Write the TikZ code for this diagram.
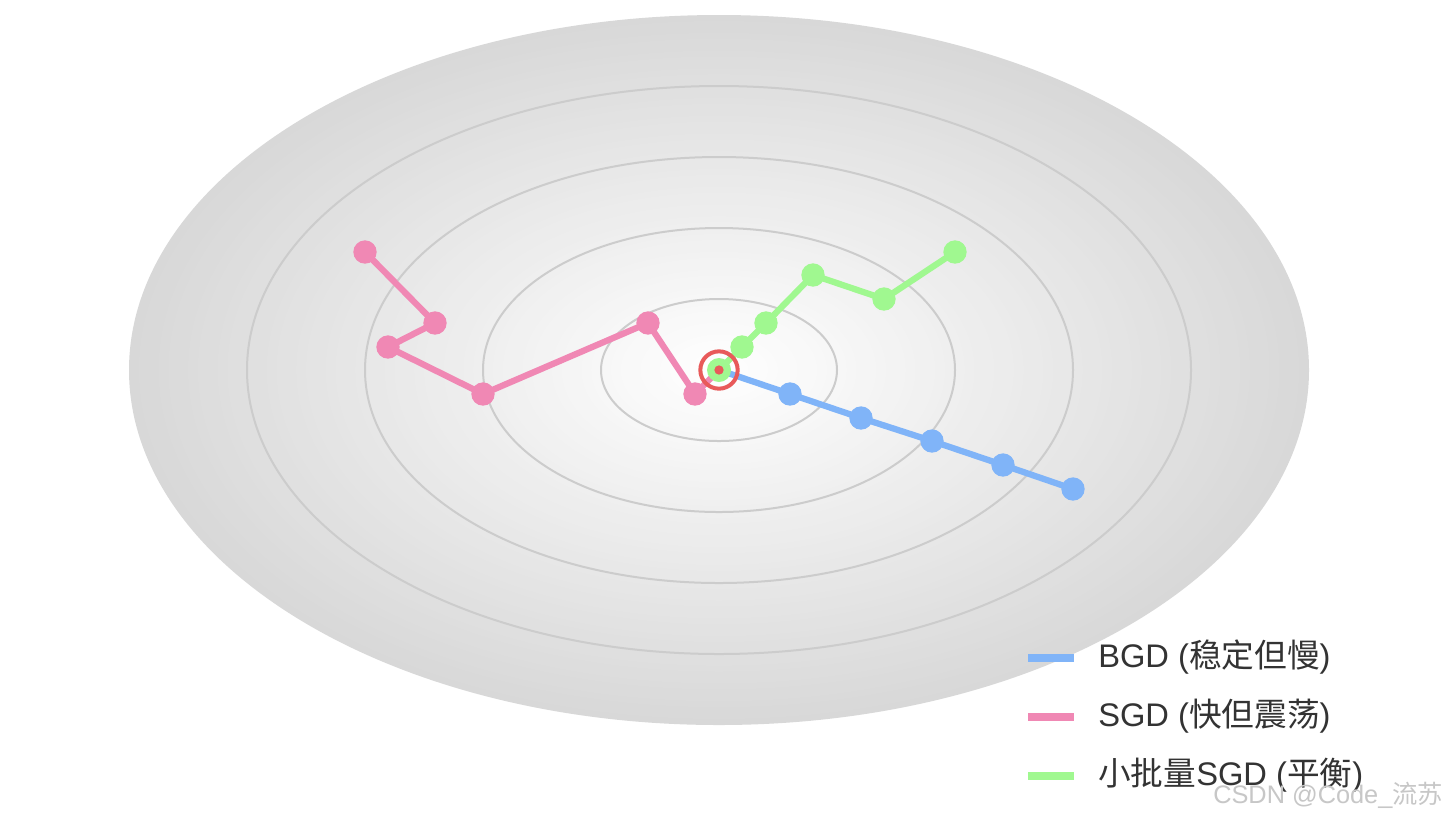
\documentclass[tikz,border=0pt]{standalone}
\usepackage{fontspec}
\setmainfont{Liberation Sans}
\newfontfamily\cjk{Noto Sans CJK SC}
\definecolor{bgedge}{HTML}{D8D8D8}
\definecolor{contour}{HTML}{CCCCCC}
\definecolor{bgdc}{HTML}{80B4F8}
\definecolor{sgdc}{HTML}{F088B4}
\definecolor{mbc}{HTML}{A0F890}
\definecolor{redc}{HTML}{E85A5A}
\definecolor{txt}{HTML}{333333}
\begin{document}
\begin{tikzpicture}[x=0.75pt,y=-0.75pt,
  contourline/.style={draw=contour,line width=1.5pt},
  path/.style={line width=4.7pt,line join=round},
  dot/.style={circle,inner sep=0pt,minimum size=17.5pt},
  legline/.style={line width=6pt},
  legtext/.style={anchor=base west,text=txt,font=\fontsize{24.5pt}{28pt}\selectfont,inner sep=0pt},
]
\useasboundingbox[fill=white] (0,0) rectangle (1448,819);
% shaded bowl
\foreach \i in {60,59,...,1}{
  \pgfmathsetmacro\rx{\i/60*442.5}
  \pgfmathsetmacro\ry{\i/60*266.25}
  \pgfmathsetmacro\p{\i/60*100}
  \fill[bgedge!\p!white] (719,370) ellipse [x radius=\rx pt, y radius=\ry pt];
}
% contours
\foreach \a/\b in {88.5/53.25,177/106.5,265.5/159.75,354/213}{
  \draw[contourline] (719,370) ellipse [x radius=\a pt, y radius=\b pt];
}
% coordinates
\coordinate (c) at (719,370);
\coordinate (b1) at (790,394);
\coordinate (b2) at (861,418);
\coordinate (b3) at (932,441);
\coordinate (b4) at (1003,465);
\coordinate (b5) at (1073,489);
\coordinate (s1) at (365,252);
\coordinate (s2) at (435,323);
\coordinate (s3) at (388,347);
\coordinate (s4) at (483,394);
\coordinate (s5) at (648,323);
\coordinate (s6) at (695,394);
\coordinate (m1) at (742,347);
\coordinate (m2) at (766,323);
\coordinate (m3) at (813,275);
\coordinate (m4) at (884,299);
\coordinate (m5) at (955,252);
% BGD
\draw[path,bgdc] (c) -- (b1) -- (b2) -- (b3) -- (b4) -- (b5);
\foreach \n in {b1,b2,b3,b4,b5}{\node[dot,fill=bgdc] (\n d) at (\n) {};}
% SGD
\draw[path,sgdc] (s1) -- (s2) -- (s3) -- (s4) -- (s5) -- (s6) -- (c);
\foreach \n in {s1,s2,s3,s4,s5,s6}{\node[dot,fill=sgdc] (\n d) at (\n) {};}
% mini-batch
\draw[path,mbc] (c) -- (m1) -- (m2) -- (m3) -- (m4) -- (m5);
\foreach \n in {m1,m2,m3,m4,m5}{\node[dot,fill=mbc] (\n d) at (\n) {};}
\node[dot,fill=mbc,minimum size=18pt] (cd) at (c) {};
% optimum marker
\node[circle,draw=redc,line width=3pt,minimum size=28pt,inner sep=0pt] (ring) at (c) {};
\node[circle,fill=redc,minimum size=7pt,inner sep=0pt] (opt) at (c) {};
% legend
\coordinate (l1a) at (1028,658); \coordinate (l1b) at (1074,658);
\coordinate (l2a) at (1028,717); \coordinate (l2b) at (1074,717);
\coordinate (l3a) at (1028,776); \coordinate (l3b) at (1074,776);
\draw[legline,bgdc] (l1a) -- (l1b);
\draw[legline,sgdc] (l2a) -- (l2b);
\draw[legline,mbc] (l3a) -- (l3b);
\node[legtext] (t1) at (1098,667) {BGD ({\cjk 稳定但慢})};
\node[legtext] (t2) at (1098,726) {SGD ({\cjk 快但震荡})};
\node[legtext] (t3) at (1098,785) {{\cjk 小批量}SGD ({\cjk 平衡})};
% watermark
\node[anchor=base west,text=black!22,font=\fontsize{19pt}{22pt}\selectfont,inner sep=0pt] (wm) at (1213,803) {CSDN @Code\_{\cjk 流苏}};
\end{tikzpicture}
\end{document}
